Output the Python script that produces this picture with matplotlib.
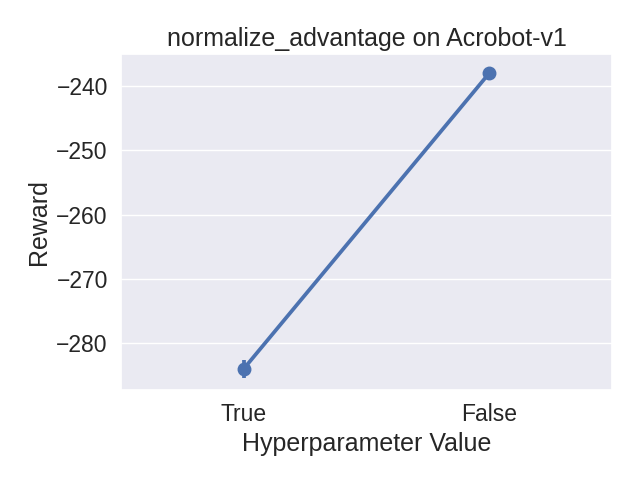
import matplotlib
matplotlib.use("Agg")
import matplotlib.pyplot as plt
import seaborn as sns

sns.set_theme(style="darkgrid", font_scale=1.5)
plt.rcParams["font.family"] = ["Liberation Sans", "DejaVu Sans"]

categories = ["True", "False"]
means = [-284.0, -238.0]
err_low = [1.4, 0.3]
err_high = [1.4, 0.3]

fig = plt.figure(figsize=(6.4, 4.8), dpi=100)
ax = fig.add_axes([121 / 640, 1 - 390 / 480, (612 - 121) / 640, (390 - 54) / 480])
x = list(range(len(categories)))
color = sns.color_palette()[0]
ax.plot(x, means, color=color, lw=2.7, marker="o", markersize=9)
ax.errorbar(x, means, yerr=[err_low, err_high], fmt="none", ecolor=color, elinewidth=2.7)
ax.set_xticks(x)
ax.set_xticklabels(categories)
ax.set_xlim(-0.5, 1.5)
ax.set_ylim(-287.3, -235.02)
ax.set_yticks([-280, -270, -260, -250, -240])
ax.grid(False, axis="x")
ax.set_xlabel("Hyperparameter Value")
ax.set_ylabel("Reward")
ax.set_title("normalize_advantage on Acrobot-v1")
fig.savefig("out.png", dpi=100)
